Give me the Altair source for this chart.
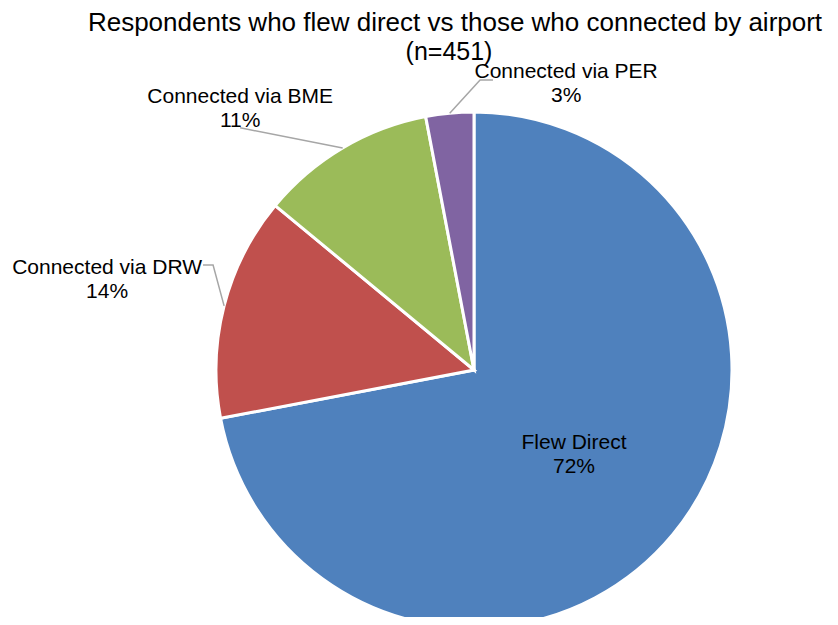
import math
import altair as alt
import pandas as pd

# ---- data ----
categories = ["Flew Direct", "Connected via DRW", "Connected via BME", "Connected via PER"]
shares = [72, 14, 11, 3]
pct_labels = ["72%", "14%", "11%", "3%"]
colors = ["#4F81BD", "#C0504D", "#9BBB59", "#8064A2"]
title_lines = ["Respondents who flew direct vs those who connected by airport", "(n=451)"]

# ---- layout (label placement, relative to pie radius) ----
label_angle_shift = [0.4, -0.5, -11.2, 23.2]
label_radius = [0.506, 1.465, 1.36, 1.168]
has_leader = [False, True, True, True]
elbow_angle_shift = [0.0, 7.5, -13.4, 6.6]
elbow_radius = [0.0, 1.090, 1.305, 1.124]
tail_length = [0.0, -0.039, 0.0, 0.05]

W, H = 822, 609
CX, CY, R = 466, 362, 258
FONT = "Liberation Sans"


def polar(angle_deg, r):
    a = math.radians(angle_deg)
    return r * math.sin(a), r * math.cos(a)


cum = 0.0
slices, labels, leaders = [], [], []
for i, (cat, v) in enumerate(zip(categories, shares)):
    mid = (cum + v / 2) / sum(shares) * 360
    cum += v
    slices.append({"idx": i, "category": cat, "share": v})
    lx, ly = polar(mid + label_angle_shift[i], label_radius[i])
    labels.append({"idx": i, "text": cat + "\n" + pct_labels[i], "x": lx, "y": ly})
    if has_leader[i]:
        ex, ey = polar(mid, 1.0)
        bx, by = polar(mid + elbow_angle_shift[i], elbow_radius[i])
        leaders += [
            {"idx": i, "pt": 0, "x": ex, "y": ey},
            {"idx": i, "pt": 1, "x": bx, "y": by},
            {"idx": i, "pt": 2, "x": bx + tail_length[i], "y": by},
        ]

df_slices = pd.DataFrame(slices)
df_labels = pd.DataFrame(labels)
df_leaders = pd.DataFrame(leaders)
df_title1 = pd.DataFrame({"line": [title_lines[0]]})
df_title2 = pd.DataFrame({"line": [title_lines[1]]})

xs = alt.Scale(domain=[-1, 1], range=[CX - R, CX + R], zero=False, nice=False)
ys = alt.Scale(domain=[-1, 1], range=[CY + R, CY - R], zero=False, nice=False)

pie = alt.Chart(df_slices).mark_arc(radius=R, stroke="white", strokeWidth=3).encode(
    theta=alt.Theta("share:Q", stack=True),
    color=alt.Color("category:N", scale=alt.Scale(domain=categories, range=colors), legend=None),
    order=alt.Order("idx:Q"),
    x=alt.value(CX),
    y=alt.value(CY),
)

leader_lines = alt.Chart(df_leaders).mark_line(color="#A6A6A6", strokeWidth=1.5).encode(
    x=alt.X("x:Q", scale=xs, axis=None),
    y=alt.Y("y:Q", scale=ys, axis=None),
    detail="idx:N",
    order=alt.Order("pt:Q"),
)

label_text = alt.Chart(df_labels).mark_text(
    font=FONT, fontSize=21, lineBreak="\n", lineHeight=24, align="center",
    baseline="middle", color="black", dy=-11
).encode(
    x=alt.X("x:Q", scale=xs, axis=None),
    y=alt.Y("y:Q", scale=ys, axis=None),
    text="text:N",
)

title_text1 = alt.Chart(df_title1).mark_text(
    font=FONT, fontSize=26, align="center", baseline="alphabetic", color="black"
).encode(x=alt.value(447), y=alt.value(23), text="line:N")

title_text2 = alt.Chart(df_title2).mark_text(
    font=FONT, fontSize=25, align="center", baseline="alphabetic", color="black"
).encode(x=alt.value(441), y=alt.value(52), text="line:N")

chart = alt.layer(pie, leader_lines, label_text, title_text1, title_text2).properties(
    width=W, height=H, autosize=alt.AutoSizeParams(type="none"), padding=0, background="white"
).configure_view(stroke=None)

chart.save("out.html", embed_options={"renderer": "svg", "actions": False})
